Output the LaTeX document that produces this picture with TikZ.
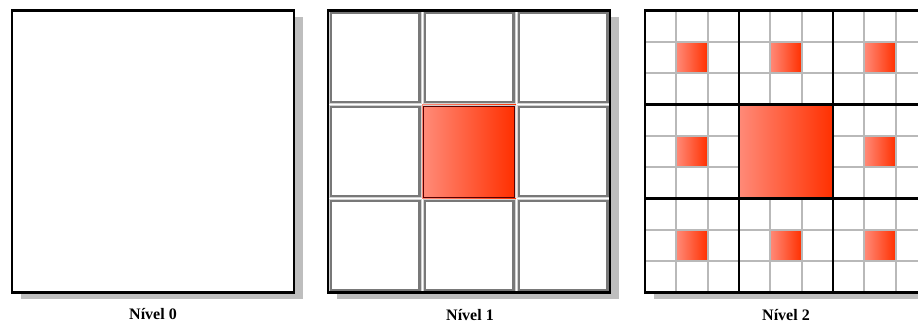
\documentclass[tikz,border=0pt]{standalone}
\usepackage{fontspec}
\setmainfont{Liberation Serif}
\definecolor{redL}{RGB}{255,138,120}
\definecolor{redR}{RGB}{255,48,0}
\definecolor{shadowgray}{RGB}{190,190,190}
\definecolor{cellgray}{RGB}{120,120,120}
\definecolor{subgray}{RGB}{185,185,185}
\begin{document}
\begin{tikzpicture}[x=1pt,y=-1pt,
  frame/.style={draw=black,line width=2.8pt,fill=white},
  shadowbox/.style={fill=shadowgray,draw=none},
  redfill/.style={left color=redL,right color=redR},
  cellbox/.style={draw=cellgray,line width=2.2pt},
  cellinner/.style={draw=gray!35,line width=0.9pt},
  subline/.style={draw=subgray,line width=2pt},
  blockline/.style={draw=black,line width=2.4pt},
  lbl/.style={font=\bfseries\fontsize{16}{18}\selectfont,inner sep=0pt}]
\useasboundingbox (0,0) rectangle (918,324);
\clip (0,0) rectangle (918,324);
\def\S{282}
\def\T{10.5}
% shadows and frames
\foreach \px in {12,328,645}{
  \fill[shadowbox] (\px+9,\T+6) rectangle ++(\S,\S);
  \fill[white] (\px,\T) rectangle ++(\S,\S);
}
% ---- Level 0
\draw[frame] (12,\T) rectangle ++(\S,\S);
% ---- Level 1
\fill[redfill] (328+94,\T+94) rectangle ++(94,94);
\foreach \i in {0,1,2}{
  \foreach \j in {0,1,2}{
    \draw[cellbox] (328+94*\i+2.5,\T+94*\j+2.5) rectangle ++(89,89);
    \draw[cellinner] (328+94*\i+1,\T+94*\j+1) rectangle ++(92,92);
  }
}
\fill[redfill] (328+94+1.5,\T+94+1.5) rectangle ++(91,91);
\draw[draw=red!35!black,line width=0.9pt] (328+94+1.5,\T+94+1.5) rectangle ++(91,91);
\draw[frame,fill=none] (328,\T) rectangle ++(\S,\S);
% ---- Level 2
\def\B{94}
\def\c{31.333}
\foreach \i in {0,1,2}{
  \foreach \j in {0,1,2}{
    \ifnum\i\j=11
      \fill[redfill] (645+\B*\i,\T+\B*\j) rectangle ++(\B,\B);
    \else
      \fill[redfill] (645+\B*\i+\c,\T+\B*\j+\c) rectangle ++(\c,\c);
      \draw[subline] (645+\B*\i+\c,\T+\B*\j) -- ++(0,\B);
      \draw[subline] (645+\B*\i+2*\c,\T+\B*\j) -- ++(0,\B);
      \draw[subline] (645+\B*\i,\T+\B*\j+\c) -- ++(\B,0);
      \draw[subline] (645+\B*\i,\T+\B*\j+2*\c) -- ++(\B,0);
    \fi
  }
}
\foreach \k in {1,2}{
  \draw[blockline] (645+\B*\k,\T) -- ++(0,\S);
  \draw[blockline] (645,\T+\B*\k) -- ++(\S,0);
}
\draw[frame,fill=none] (645,\T) rectangle ++(\S,\S);
% labels
\node[lbl] (lab0) at (153,314.5) {Nível 0};
\node[lbl] (lab1) at (470,315) {Nível 1};
\node[lbl] (lab2) at (786,315) {Nível 2};
\end{tikzpicture}
\end{document}
